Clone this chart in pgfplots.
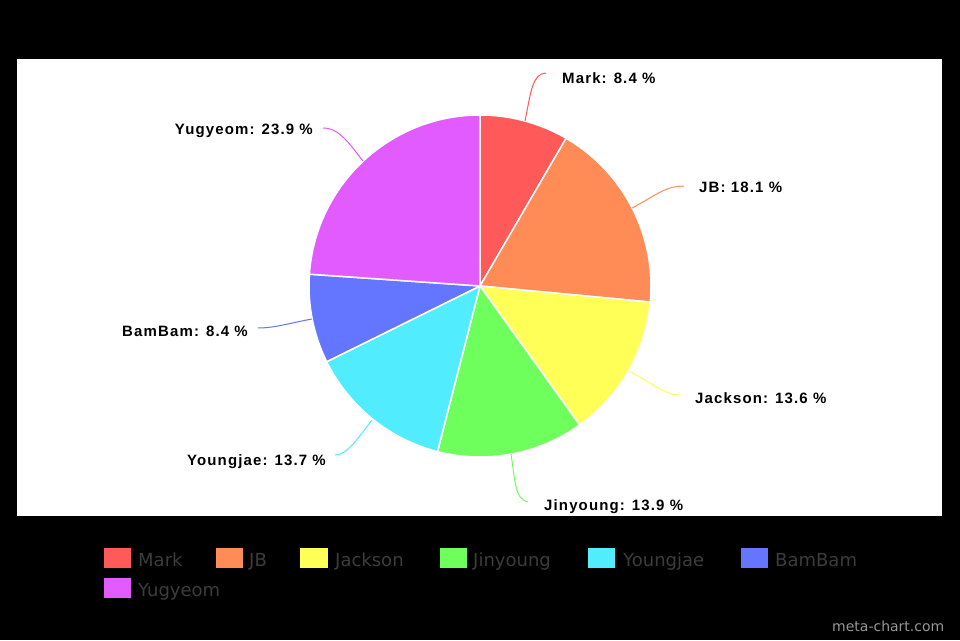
\documentclass[border=0pt]{standalone}
\usepackage{fontspec}
\setmainfont{Liberation Sans}
\newfontfamily\labelfont{Liberation Sans}[LetterSpace=7.5]
\newfontfamily\legfont{DejaVu Sans}
\usepackage{pgfplots}
\usepackage{pgfplotstable}
\pgfplotsset{compat=1.18}
\definecolor{pie0}{HTML}{FF5959}
\definecolor{pie1}{HTML}{FF8C57}
\definecolor{pie2}{HTML}{FFFF57}
\definecolor{pie3}{HTML}{6FFF5C}
\definecolor{pie4}{HTML}{52ECFF}
\definecolor{pie5}{HTML}{6475FF}
\definecolor{pie6}{HTML}{E15BFF}
\definecolor{legtext}{RGB}{60,60,60}
\definecolor{wm}{RGB}{150,150,150}
\pgfplotstableread[col sep=comma]{
name,value
Mark,8.4
JB,18.1
Jackson,13.6
Jinyoung,13.9
Youngjae,13.7
BamBam,8.4
Yugyeom,23.9
}\piedata
\begin{document}
\begin{tikzpicture}
\begin{axis}[width=960pt,height=640pt,scale only axis,
  xmin=0,xmax=960,ymin=0,ymax=640,hide axis,clip=false]
\fill[black] (axis cs:0,0) rectangle (axis cs:960,640);
\fill[white] (axis cs:17,124) rectangle (axis cs:942,581);
\def\cum{0}
\pgfplotsforeachungrouped \i in {0,...,6}{%
  \pgfplotstablegetelem{\i}{value}\of\piedata
  \pgfmathsetmacro\sa{90-3.6*\cum}%
  \pgfmathsetmacro\ea{90-3.6*(\cum+\pgfplotsretval)}%
  \pgfmathsetmacro\cum{\cum+\pgfplotsretval}%
  \edef\cmd{\noexpand\filldraw[fill=pie\i, draw=white, line width=1.5pt, line join=round] (axis cs:480,354) -- ++(\sa:171pt) arc[start angle=\sa, end angle=\ea, radius=171pt] -- cycle;}%
  \cmd
}
% leader lines
\draw[pie0, line width=1pt] (axis cs:525,519) .. controls (axis cs:531,548) and (axis cs:532,566) .. (axis cs:546,567);
\draw[pie1, line width=1pt] (axis cs:632,432) .. controls (axis cs:655,444) and (axis cs:665,454) .. (axis cs:684,454);
\draw[pie2, line width=1pt] (axis cs:629,269) .. controls (axis cs:650,258) and (axis cs:665,245) .. (axis cs:679,245);
\draw[pie3, line width=1pt] (axis cs:511,186) .. controls (axis cs:515,160) and (axis cs:515,140) .. (axis cs:528,138);
\draw[pie4, line width=1pt] (axis cs:372,220) .. controls (axis cs:360,205) and (axis cs:348,185) .. (axis cs:335,185);
\draw[pie5, line width=1pt] (axis cs:312,321) .. controls (axis cs:290,317) and (axis cs:275,312) .. (axis cs:258,312);
\draw[pie6, line width=1pt] (axis cs:363,479) .. controls (axis cs:350,495) and (axis cs:340,512) .. (axis cs:323,512);
% labels
\begin{scope}[every node/.style={inner sep=0pt,font=\labelfont\bfseries\fontsize{15}{18}\selectfont,text=black}]
\node[anchor=base west] at (axis cs:562,556.5) {Mark: 8.4 \%};
\node[anchor=base west] at (axis cs:699,447) {JB: 18.1 \%};
\node[anchor=base west] at (axis cs:695,236.7) {Jackson: 13.6 \%};
\node[anchor=base west] at (axis cs:544,130) {Jinyoung: 13.9 \%};
\node[anchor=base east] at (axis cs:326,175) {Youngjae: 13.7 \%};
\node[anchor=base east] at (axis cs:248,303.3) {BamBam: 8.4 \%};
\node[anchor=base east] at (axis cs:313,505.7) {Yugyeom: 23.9 \%};
\end{scope}
% legend
\begin{scope}[every node/.style={inner sep=0pt,anchor=base west,font=\legfont\fontsize{18}{22}\selectfont,text=legtext}]
\fill[pie0] (axis cs:104,72) rectangle (axis cs:131,92);
\node at (axis cs:138,73.3) {Mark};
\fill[pie1] (axis cs:216,72) rectangle (axis cs:243,92);
\node at (axis cs:249,73.3) {JB};
\fill[pie2] (axis cs:300,72) rectangle (axis cs:328,92);
\node at (axis cs:335,73.3) {Jackson};
\fill[pie3] (axis cs:440,72) rectangle (axis cs:467,92);
\node at (axis cs:473,73.3) {Jinyoung};
\fill[pie4] (axis cs:588,72) rectangle (axis cs:615,92);
\node at (axis cs:623,73.3) {Youngjae};
\fill[pie5] (axis cs:741,72) rectangle (axis cs:768,92);
\node at (axis cs:775,73.3) {BamBam};
\fill[pie6] (axis cs:104,42) rectangle (axis cs:131,62);
\node at (axis cs:138,43.3) {Yugyeom};
\end{scope}
\node[inner sep=0pt,anchor=base west,font=\legfont\fontsize{14}{16}\selectfont,text=wm] at (axis cs:832,8.3) {meta-chart.com};
\end{axis}
\end{tikzpicture}
\end{document}
